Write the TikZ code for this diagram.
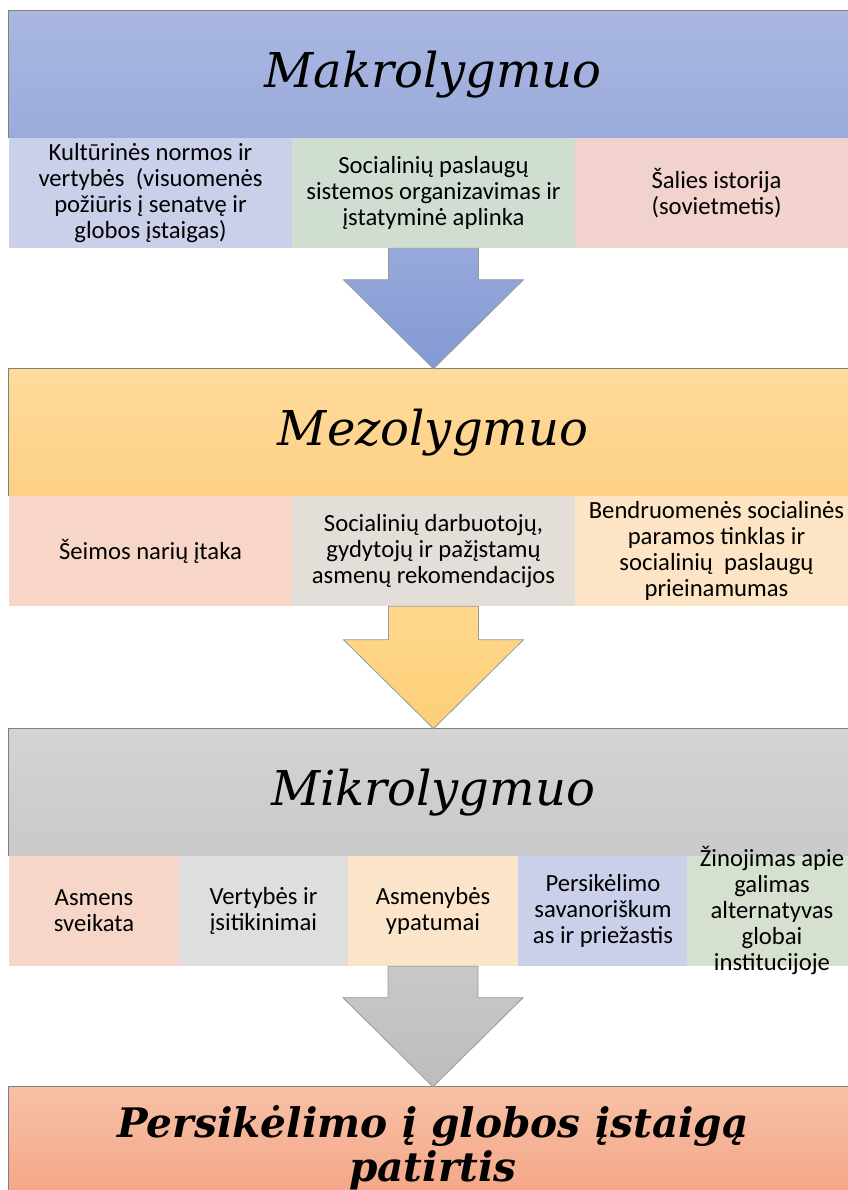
\documentclass[tikz,border=0pt]{standalone}
\usepackage{fontspec}
\setmainfont{Carlito}
\newfontfamily\levelfont{DejaVu Serif}
\usepackage{tikz}
\usetikzlibrary{calc}

\definecolor{makroTop}{HTML}{A9B7E1}
\definecolor{makroBot}{HTML}{9BABDB}
\definecolor{mezoTop}{HTML}{FFDB9A}
\definecolor{mezoBot}{HTML}{FDD086}
\definecolor{mikroTop}{HTML}{D4D4D4}
\definecolor{mikroBot}{HTML}{C9C9C9}
\definecolor{finalTop}{HTML}{F7C0A6}
\definecolor{finalBot}{HTML}{F4A383}
\definecolor{arrBlueTop}{HTML}{97A9DB}
\definecolor{arrBlueBot}{HTML}{8499D4}
\definecolor{arrGoldTop}{HTML}{FFD88C}
\definecolor{arrGoldBot}{HTML}{FCCF78}
\definecolor{arrGrayTop}{HTML}{C8C8C8}
\definecolor{arrGrayBot}{HTML}{BDBDBD}
\definecolor{subLav}{HTML}{CBD0EA}
\definecolor{subGreen}{HTML}{D0DED1}
\definecolor{subPink}{HTML}{F1D2CD}
\definecolor{subPeach}{HTML}{F7D6C8}
\definecolor{subBeige}{HTML}{E3DFD8}
\definecolor{subOrange}{HTML}{FDE4C4}
\definecolor{subGray}{HTML}{DEDEDE}
\definecolor{subSand}{HTML}{FBE4C9}
\definecolor{subSage}{HTML}{D5E0CF}
\definecolor{edgeGray}{HTML}{7F7F7F}

\tikzset{
  header/.style={inner sep=0pt, minimum width=636pt, minimum height=95.25pt,
    font=\levelfont\itshape\fontsize{36}{40}\selectfont},
  subbox/.style={inner sep=0pt, minimum height=82.5pt, align=center,
    font=\fontsize{18.5}{19.5}\selectfont},
  widebox/.style={subbox, minimum width=212.25pt},
  narrowbox/.style={subbox, minimum width=127.5pt},
  bandline/.style={draw=edgeGray, line width=0.8pt},
  downarrow/.style={draw=edgeGray!80, line width=0.6pt,
    to path={($(\tikztostart)+(-45,0)$) -- ($(\tikztostart)+(45,0)$)
      -- ($(\tikztotarget)+(45,-89)$) -- ($(\tikztotarget)+(90,-89)$)
      -- (\tikztotarget) -- ($(\tikztotarget)+(-90,-89)$)
      -- ($(\tikztotarget)+(-45,-89)$) -- cycle}}
}

\begin{document}
\begin{tikzpicture}[x=0.75pt,y=0.75pt,yscale=-1,xscale=1]
        \useasboundingbox (0,0) rectangle (848,1190);
        \clip (0,0) rectangle (848,1190);

        %Shape: Rectangle [makro level]
        \node[header, top color=makroTop, bottom color=makroBot] (makro) at (433,74.5) {Makrolygmuo};
        \draw[bandline] (makro.south west) -- (makro.north west) -- (makro.north east);
        \node[widebox, fill=subLav] (makroA) at (150.5,193) {Kultūrinės normos ir\\vertybės\ \ (visuomenės\\požiūris į senatvę ir\\globos įstaigas)};
        \node[widebox, fill=subGreen] (makroB) at (433.5,193) {Socialinių paslaugų\\sistemos organizavimas ir\\įstatyminė aplinka};
        \node[widebox, fill=subPink] (makroC) at (716.5,193) {Šalies istorija\\(sovietmetis)};

        %Shape: Rectangle [mezo level]
        \node[header, top color=mezoTop, bottom color=mezoBot] (mezo) at (433,432.5) {Mezolygmuo};
        \draw[bandline] (mezo.south west) -- (mezo.north west) -- (mezo.north east);
        \node[widebox, fill=subPeach] (mezoA) at (150.5,551) {Šeimos narių įtaka};
        \node[widebox, fill=subBeige] (mezoB) at (433.5,551) {Socialinių darbuotojų,\\gydytojų ir pažįstamų\\asmenų rekomendacijos};
        \node[widebox, fill=subOrange] (mezoC) at (716.5,551) {Bendruomenės socialinės\\paramos tinklas ir\\socialinių\ \ paslaugų\\prieinamumas};

        %Shape: Rectangle [mikro level]
        \node[header, top color=mikroTop, bottom color=mikroBot] (mikro) at (433,792.5) {Mikrolygmuo};
        \draw[bandline] (mikro.south west) -- (mikro.north west) -- (mikro.north east);
        \node[narrowbox, fill=subPeach!90!subPink] (mikroA) at (94,911) {Asmens\\sveikata};
        \node[narrowbox, fill=subGray] (mikroB) at (263.5,911) {Vertybės ir\\įsitikinimai};
        \node[narrowbox, fill=subSand] (mikroC) at (433,911) {Asmenybės\\ypatumai};
        \node[narrowbox, fill=subLav] (mikroD) at (603,911) {Persikėlimo\\savanoriškum\\as ir priežastis};
        \node[narrowbox, fill=subSage, text height=93pt, text depth=4pt, inner ysep=-7.25pt] (mikroE) at (772,911) {Žinojimas apie\\galimas\\alternatyvas\\globai\\institucijoje};

        %Shape: Rectangle [result]
        \node[header, minimum height=91.5pt, top color=finalTop, bottom color=finalBot, align=center,
          font=\levelfont\bfseries\itshape\fontsize{30.5}{33}\selectfont] (patirtis) at (433,1148) {Persikėlimo į globos įstaigą\\patirtis};
        \draw[bandline] (patirtis.south west) -- (patirtis.north west) -- (patirtis.north east);

        %Down Arrows
        \draw[downarrow, top color=arrBlueTop, bottom color=arrBlueBot] (makroB.south) to (makroB.south |- mezo.north);
        \draw[downarrow, top color=arrGoldTop, bottom color=arrGoldBot] (mezoB.south) to (mezoB.south |- mikro.north);
        \draw[downarrow, top color=arrGrayTop, bottom color=arrGrayBot] (mikroC.south) to (mikroC.south |- patirtis.north);

    \end{tikzpicture}
\end{document}
